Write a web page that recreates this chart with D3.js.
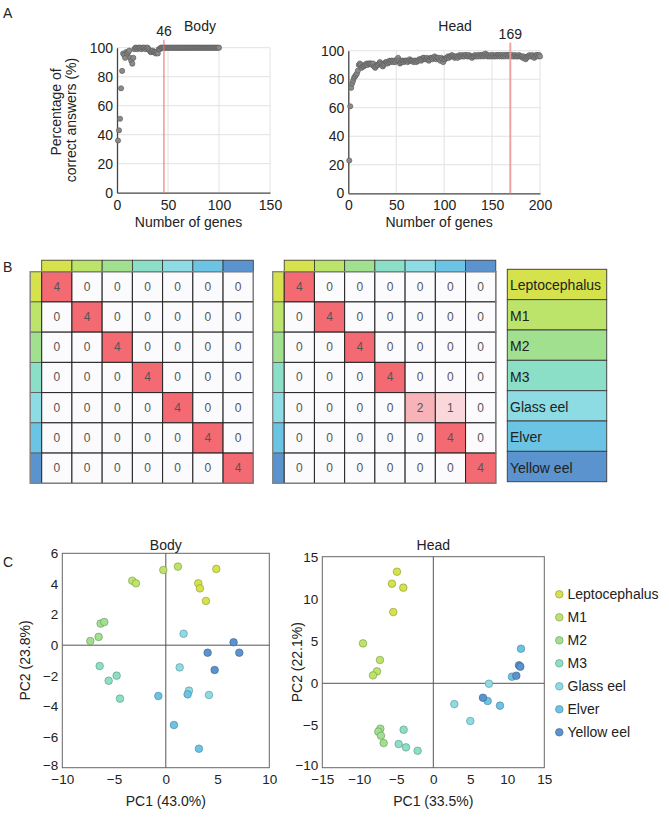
<!DOCTYPE html>
<html>
<head>
<meta charset="utf-8">
<script src="https://cdn.jsdelivr.net/npm/d3@7.9.0/dist/d3.min.js"></script>
<style>
  body { margin: 0; background: #fff; }
  svg { display: block; font-family: "Liberation Sans", Arial, sans-serif; }
</style>
</head>
<body>
<svg id="fig" width="669" height="821"></svg>
<script>
// Stages and their colours
const stages = ["Leptocephalus", "M1", "M2", "M3", "Glass eel", "Elver", "Yellow eel"];
const stageColors = ["#d5e24b", "#bde46a", "#a0e08f", "#8cdfc7", "#8ddbe3", "#6bc4e4", "#5a93cd"];

// Panel A: % correct answers vs number of genes (gene count = index + 1)
const bodyAccuracy = [
  36, 43, 51, 72, 84, 96, 95, 93, 97, 96,
  97, 98, 93, 91, 89, 93, 99, 100, 100, 99,
  100, 100, 100, 99, 100, 100, 100, 99, 100, 100,
  99, 98, 97, 97, 98, 97, 97, 96, 97, 96,
  99, 99, 100, 100, 100, 100, 100, 100, 100, 100,
  100, 100, 100, 100, 100, 100, 100, 100, 100, 100,
  100, 100, 100, 100, 100, 100, 100, 100, 100, 100,
  100, 100, 100, 100, 100, 100, 100, 100, 100, 100,
  100, 100, 100, 100, 100, 100, 100, 100, 100, 100,
  100, 100, 100, 100, 100, 100, 100, 100, 100, 100
];
const headAccuracy = [
  23, 61, 74, 77, 79, 81, 82, 83, 84, 86,
  90, 91, 90, 88, 89, 89, 90, 90, 91, 90,
  91, 91, 91, 91, 90, 91, 89, 88, 89, 90,
  90, 91, 92, 91, 90, 89, 90, 91, 92, 92,
  91, 92, 93, 92, 93, 93, 92, 93, 92, 93,
  94, 95, 93, 91, 92, 93, 93, 92, 93, 93,
  93, 92, 93, 94, 93, 93, 93, 92, 93, 93,
  92, 93, 93, 94, 94, 93, 94, 95, 95, 94,
  94, 95, 94, 93, 94, 95, 95, 94, 95, 96,
  95, 94, 95, 95, 94, 93, 95, 94, 92, 94,
  94, 95, 95, 96, 95, 96, 96, 97, 96, 96,
  95, 96, 96, 95, 96, 97, 96, 96, 97, 96,
  96, 97, 97, 96, 96, 97, 96, 96, 95, 96,
  96, 97, 96, 96, 97, 96, 97, 96, 97, 97,
  96, 97, 98, 97, 96, 97, 96, 96, 97, 96,
  97, 96, 96, 97, 96, 97, 97, 96, 97, 96,
  97, 96, 97, 96, 97, 97, 96, 97, 97, 96,
  97, 96, 96, 97, 96, 96, 96, 97, 96, 96,
  96, 95, 96, 95, 94, 95, 96, 96, 97, 96,
  96, 97, 96, 95, 96, 97, 97, 96, 97, 96
];
const bodyBest = 46;
const headBest = 169;

// Panel B: confusion matrices (rows = true stage, cols = predicted)
const bodyMatrix = [
  [4, 0, 0, 0, 0, 0, 0],
  [0, 4, 0, 0, 0, 0, 0],
  [0, 0, 4, 0, 0, 0, 0],
  [0, 0, 0, 4, 0, 0, 0],
  [0, 0, 0, 0, 4, 0, 0],
  [0, 0, 0, 0, 0, 4, 0],
  [0, 0, 0, 0, 0, 0, 4]
];
const headMatrix = [
  [4, 0, 0, 0, 0, 0, 0],
  [0, 4, 0, 0, 0, 0, 0],
  [0, 0, 4, 0, 0, 0, 0],
  [0, 0, 0, 4, 0, 0, 0],
  [0, 0, 0, 0, 2, 1, 0],
  [0, 0, 0, 0, 0, 4, 0],
  [0, 0, 0, 0, 0, 0, 4]
];

// Panel C: PCA scores [stage index, PC1, PC2]
const bodyPca = [
  [0, 3.14, 4.04], [0, 3.30, 3.71], [0, 3.88, 2.89], [0, 4.88, 4.98],
  [1, -0.24, 4.91], [1, 1.17, 5.13], [1, -3.24, 4.21], [1, -2.88, 4.04],
  [2, -6.30, 1.41], [2, -5.94, 1.51], [2, -7.29, 0.27], [2, -6.49, 0.54],
  [3, -6.39, -1.36], [3, -5.52, -2.32], [3, -4.75, -1.99], [3, -4.43, -3.49],
  [4, 1.72, 0.75], [4, 1.34, -1.45], [4, 2.24, -2.97], [4, 4.17, -3.25],
  [5, -0.72, -3.32], [5, 2.11, -3.21], [5, 0.79, -5.21], [5, 3.20, -6.76],
  [6, 6.55, 0.19], [6, 7.10, -0.49], [6, 4.04, -0.49], [6, 4.72, -1.62]
];
const headPca = [
  [0, -4.91, 13.22], [0, -5.59, 11.80], [0, -4.05, 11.33], [0, -5.41, 8.44],
  [1, -9.50, 4.73], [1, -7.21, 2.76], [1, -7.61, 1.41], [1, -8.15, 0.94],
  [2, -7.16, -5.38], [2, -7.43, -5.73], [2, -7.07, -6.21], [2, -6.71, -7.08],
  [3, -4.01, -5.50], [3, -4.68, -7.20], [3, -3.69, -7.59], [3, -2.12, -7.99],
  [4, 7.52, -0.05], [4, 2.84, -2.46], [4, 5.00, -4.47],
  [5, 11.85, 4.10], [5, 10.63, 0.78], [5, 7.34, -2.10], [5, 9.01, -2.65],
  [6, 6.71, -1.71], [6, 11.58, 2.13], [6, 11.76, 1.97], [6, 11.22, 0.90]
];

const svg = d3.select("#fig");
const FS = 14;

// panel letters
[["A", 3, 18], ["B", 3, 272], ["C", 3, 567]].forEach(([t, x, y]) => {
  svg.append("text").attr("x", x).attr("y", y).attr("font-size", 14).attr("fill", "#222").text(t);
});

// ---------- Panel A ----------
function drawAccuracy(data, best, title, xMax, xTicks, px, py, titleX, markColor, markWidth) {
  const x = d3.scaleLinear().domain([0, xMax]).range(px);
  const y = d3.scaleLinear().domain([0, 100]).range(py);
  const g = svg.append("g");

  // grid
  g.selectAll(".hg").data([20, 40, 60, 80, 100]).join("line")
    .attr("x1", px[0]).attr("x2", px[1])
    .attr("y1", d => y(d)).attr("y2", d => y(d))
    .attr("stroke", "#e2e2e2").attr("stroke-width", 1);
  g.selectAll(".vg").data(xTicks.filter(d => d > 0)).join("line")
    .attr("x1", d => x(d)).attr("x2", d => x(d))
    .attr("y1", py[0]).attr("y2", py[1])
    .attr("stroke", "#e2e2e2").attr("stroke-width", 1);

  // axes
  const xa = g.append("g").attr("transform", `translate(0,${py[0]})`)
    .call(d3.axisBottom(x).tickValues(xTicks).tickSize(0).tickPadding(7));
  const ya = g.append("g").attr("transform", `translate(${px[0]},0)`)
    .call(d3.axisLeft(y).tickValues([0, 20, 40, 60, 80, 100]).tickSize(0).tickPadding(4));
  [xa, ya].forEach(a => {
    a.select(".domain").attr("stroke", "#444").attr("stroke-width", 1.3);
    a.selectAll("text").attr("font-size", FS).attr("fill", "#222").attr("font-family", "Liberation Sans, Arial, sans-serif");
  });

  // points
  g.selectAll("circle").data(data).join("circle")
    .attr("cx", (d, i) => x(i + 1))
    .attr("cy", d => y(d))
    .attr("r", 2.6)
    .attr("fill", "#8a8a8a")
    .attr("stroke", "#555")
    .attr("stroke-width", 0.6);

  // best gene count marker
  g.append("line")
    .attr("x1", x(best)).attr("x2", x(best))
    .attr("y1", py[1] - 8).attr("y2", py[0])
    .attr("stroke", markColor).attr("stroke-width", markWidth).attr("opacity", 0.9);
  g.append("text").attr("x", x(best)).attr("y", py[1] - 12)
    .attr("text-anchor", "middle").attr("font-size", FS).attr("fill", "#222").text(best);
  g.append("text").attr("x", titleX).attr("y", 31)
    .attr("text-anchor", "middle").attr("font-size", FS).attr("fill", "#222").text(title);

  g.append("text").attr("x", (px[0] + px[1]) / 2 - 5).attr("y", 227)
    .attr("text-anchor", "middle").attr("font-size", FS).attr("fill", "#222").text("Number of genes");
}

drawAccuracy(bodyAccuracy, bodyBest, "Body", 150, [0, 50, 100, 150], [117, 270], [192.7, 47.7], 200, "#f06f6f", 1.2);
drawAccuracy(headAccuracy, headBest, "Head", 200, [0, 50, 100, 150, 200], [348.3, 540], [193.3, 50.7], 455, "#f09a9a", 2);

svg.append("text").attr("transform", "translate(55.5,112) rotate(-90)")
  .attr("text-anchor", "middle").attr("dominant-baseline", "central")
  .attr("font-size", FS).attr("fill", "#222").text("Percentage of");
svg.append("text").attr("transform", "translate(71,120) rotate(-90)")
  .attr("text-anchor", "middle").attr("dominant-baseline", "central")
  .attr("font-size", FS).attr("fill", "#222").text("correct answers (%)");

// ---------- Panel B ----------
const cellFill = d3.scaleLinear().domain([0, 4]).range(["#fbfbfd", "#f46a72"]);

function drawMatrix(matrix, left, top) {
  const band = d3.scaleBand().domain(d3.range(stages.length)).range([0, 211.6]);
  const g = svg.append("g").attr("transform", `translate(${left},${top})`);
  const barW = 11.5;

  // colour bars
  g.selectAll(".top").data(stages).join("rect")
    .attr("x", (d, i) => band(i)).attr("y", -barW)
    .attr("width", band.bandwidth()).attr("height", barW)
    .attr("fill", (d, i) => stageColors[i]).attr("stroke", "#333").attr("stroke-width", 0.8);
  g.selectAll(".left").data(stages).join("rect")
    .attr("x", -barW).attr("y", (d, i) => band(i))
    .attr("width", barW).attr("height", band.bandwidth())
    .attr("fill", (d, i) => stageColors[i]).attr("stroke", "#555").attr("stroke-width", 0.8);

  const cells = matrix.flatMap((row, r) => row.map((v, c) => ({ r, c, v })));
  g.selectAll(".cell").data(cells).join("rect")
    .attr("x", d => band(d.c)).attr("y", d => band(d.r))
    .attr("width", band.bandwidth()).attr("height", band.bandwidth())
    .attr("fill", d => cellFill(d.v)).attr("stroke", "#222").attr("stroke-width", 1);
  g.selectAll(".val").data(cells).join("text")
    .attr("x", d => band(d.c) + band.bandwidth() / 2)
    .attr("y", d => band(d.r) + band.bandwidth() / 2)
    .attr("text-anchor", "middle").attr("dominant-baseline", "central")
    .attr("font-size", 12).attr("fill", "#555").text(d => d.v);

  g.append("rect").attr("x", -barW).attr("y", 0)
    .attr("width", 211.6 + barW).attr("height", 211.6)
    .attr("fill", "none").attr("stroke", "#888").attr("stroke-width", 1.2);
}

drawMatrix(bodyMatrix, 41.7, 271.7);
drawMatrix(headMatrix, 284.2, 271.7);

// stage legend boxes
const legBand = d3.scaleBand().domain(d3.range(stages.length)).range([269.3, 481.7]);
const leg = svg.append("g");
leg.selectAll("rect").data(stages).join("rect")
  .attr("x", 507.3).attr("y", (d, i) => legBand(i))
  .attr("width", 99.4).attr("height", legBand.bandwidth())
  .attr("fill", (d, i) => stageColors[i]).attr("stroke", "#444").attr("stroke-width", 1);
leg.selectAll("text").data(stages).join("text")
  .attr("x", 510).attr("y", (d, i) => legBand(i) + legBand.bandwidth() / 2 + 1)
  .attr("dominant-baseline", "central").attr("font-size", FS).attr("fill", "#222").text(d => d);

// ---------- Panel C ----------
function drawPca(points, title, xDomain, yDomain, xTicks, yTicks, px, py, xLabel, yLabel, yLabelX) {
  const x = d3.scaleLinear().domain(xDomain).range(px);
  const y = d3.scaleLinear().domain(yDomain).range(py);
  const g = svg.append("g");

  g.append("rect").attr("x", px[0]).attr("y", py[1])
    .attr("width", px[1] - px[0]).attr("height", py[0] - py[1])
    .attr("fill", "none").attr("stroke", "#666").attr("stroke-width", 1);
  g.append("line").attr("x1", x(0)).attr("x2", x(0)).attr("y1", py[0]).attr("y2", py[1])
    .attr("stroke", "#555").attr("stroke-width", 1);
  g.append("line").attr("x1", px[0]).attr("x2", px[1]).attr("y1", y(0)).attr("y2", y(0))
    .attr("stroke", "#555").attr("stroke-width", 1);

  const xa = g.append("g").attr("transform", `translate(0,${py[0]})`)
    .call(d3.axisBottom(x).tickValues(xTicks).tickSize(0).tickPadding(7));
  const ya = g.append("g").attr("transform", `translate(${px[0]},0)`)
    .call(d3.axisLeft(y).tickValues(yTicks).tickSize(0).tickPadding(4));
  [xa, ya].forEach(a => {
    a.select(".domain").remove();
    a.selectAll("text").attr("font-size", 13.5).attr("fill", "#222").attr("font-family", "Liberation Sans, Arial, sans-serif");
  });
  // lift the lowest y tick a touch so it clears the first x tick
  ya.selectAll(".tick text").filter(d => d === yDomain[0]).attr("dy", "0.1em");

  g.selectAll("circle").data(points).join("circle")
    .attr("cx", d => x(d[1])).attr("cy", d => y(d[2])).attr("r", 3.8)
    .attr("fill", d => stageColors[d[0]])
    .attr("stroke", d => d3.color(stageColors[d[0]]).darker(1.2))
    .attr("stroke-width", 0.6);

  g.append("text").attr("x", (px[0] + px[1]) / 2).attr("y", 550)
    .attr("text-anchor", "middle").attr("font-size", FS).attr("fill", "#222").text(title);
  g.append("text").attr("x", (px[0] + px[1]) / 2).attr("y", 806)
    .attr("text-anchor", "middle").attr("font-size", FS).attr("fill", "#222").text(xLabel);
  g.append("text").attr("transform", `translate(${yLabelX},${(py[0] + py[1]) / 2}) rotate(-90)`)
    .attr("text-anchor", "middle").attr("dominant-baseline", "central")
    .attr("font-size", FS).attr("fill", "#222").text(yLabel);
}

drawPca(bodyPca, "Body", [-10, 10], [-8, 6], [-10, -5, 0, 5, 10], [-8, -6, -4, -2, 0, 2, 4, 6],
  [62.3, 269.3], [767.7, 553.3], "PC1 (43.0%)", "PC2 (23.8%)", 25);
drawPca(headPca, "Head", [-15, 15], [-10, 15], [-15, -10, -5, 0, 5, 10, 15], [-10, -5, 0, 5, 10, 15],
  [322.3, 544.3], [767.7, 556.7], "PC1 (33.5%)", "PC2 (22.1%)", 297);

// PCA legend
const pcaLeg = svg.append("g");
const legY = d3.scalePoint().domain(d3.range(stages.length)).range([594.3, 732.3]);
pcaLeg.selectAll("circle").data(stages).join("circle")
  .attr("cx", 559.3).attr("cy", (d, i) => legY(i)).attr("r", 3.8)
  .attr("fill", (d, i) => stageColors[i])
  .attr("stroke", (d, i) => d3.color(stageColors[i]).darker(1.2)).attr("stroke-width", 0.6);
pcaLeg.selectAll("text").data(stages).join("text")
  .attr("x", 567.5).attr("y", (d, i) => legY(i))
  .attr("dominant-baseline", "central").attr("font-size", FS).attr("fill", "#222").text(d => d);
</script>
</body>
</html>
